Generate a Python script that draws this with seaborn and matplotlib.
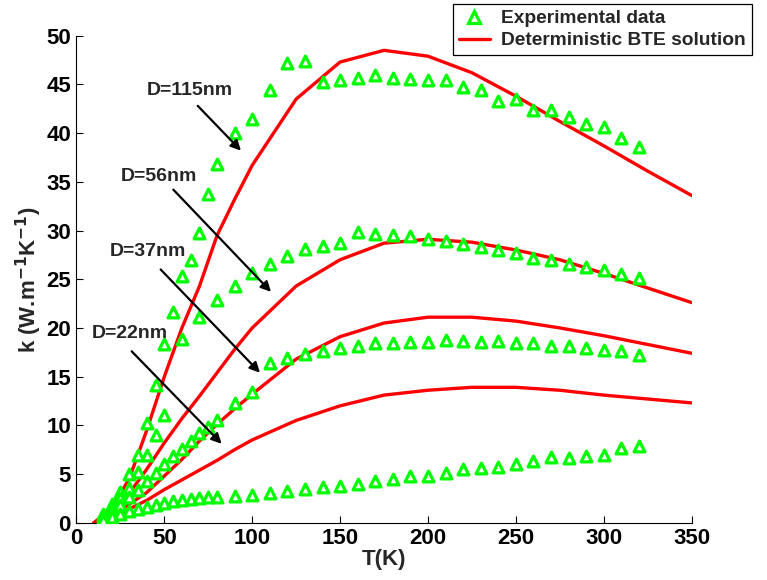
import pandas as pd
import numpy as np
import seaborn as sns
import matplotlib.pyplot as plt
import matplotlib as mpl
from matplotlib.lines import Line2D

sns.set_style('ticks')
mpl.rcParams['font.family'] = ['Liberation Sans', 'DejaVu Sans']
mpl.rcParams['font.weight'] = 'bold'
mpl.rcParams['mathtext.default'] = 'bf'

GREEN = (0, 1, 0)

# experimental points
T_exp = [15, 20, 25, 30, 35, 40, 45, 50, 55, 60, 65, 70, 75, 80,
         90, 100, 110, 120, 130, 140, 150, 160, 170, 180, 190, 200,
         210, 220, 230, 240, 250, 260, 270, 280, 290, 300, 310, 320]
T_exp56 = [15, 20, 25, 30, 35, 40, 45, 50, 60, 70, 80,
           90, 100, 110, 120, 130, 140, 150, 160, 170, 180, 190, 200,
           210, 220, 230, 240, 250, 260, 270, 280, 290, 300, 310, 320]

exp115 = [0.9, 1.9, 3.2, 5.0, 7.0, 10.2, 14.1, 18.3, 21.6, 25.3, 27.0, 29.7, 33.8, 36.8,
          40.0, 41.4, 44.4, 47.2, 47.4, 45.2, 45.5, 45.7, 46.0, 45.7,
          45.6, 45.5, 45.5, 44.7, 44.4, 43.3, 43.5, 42.4, 42.4, 41.7,
          40.9, 40.6, 39.5, 38.6]
exp56 = [0.7, 1.5, 2.5, 3.6, 5.2, 7.0, 9.0, 11.1, 18.9, 21.1, 22.9,
         24.3, 25.6, 26.6, 27.4, 28.1, 28.4, 28.7, 29.8, 29.6, 29.5,
         29.4, 29.1, 28.9, 28.6, 28.3, 28.0, 27.7, 27.2, 27.0, 26.6,
         26.3, 25.9, 25.5, 25.1]
exp37 = [0.5, 1.1, 1.8, 2.6, 3.4, 4.3, 5.1, 6.0, 6.8, 7.6, 8.4, 9.2, 9.8, 10.5,
         12.3, 13.4, 16.4, 16.9, 17.3, 17.6, 17.9, 18.1, 18.4, 18.5,
         18.6, 18.6, 18.8, 18.7, 18.6, 18.7, 18.5, 18.4, 18.1, 18.1,
         17.9, 17.7, 17.6, 17.2]
exp22 = [0.3, 0.6, 0.9, 1.2, 1.4, 1.6, 1.8, 2.0, 2.2, 2.3, 2.4, 2.5, 2.6, 2.6,
         2.7, 2.85, 3.0, 3.3, 3.5, 3.7, 3.8, 4.0, 4.3, 4.5,
         4.8, 4.8, 5.1, 5.5, 5.6, 5.7, 6.0, 6.3, 6.7, 6.6,
         6.8, 7.0, 7.7, 7.9]

# deterministic BTE solution
T_bte = [10, 20, 30, 40, 50, 60, 70, 80, 90, 100, 125, 150, 175, 200, 225, 250, 275, 300, 325, 350]
bte115 = [0, 1.5, 4.5, 9.5, 15.0, 20.0, 24.3, 29.5, 33.2, 36.7, 43.5, 47.3, 48.5, 47.9, 46.2, 43.8, 41.2, 38.7, 36.1, 33.6]
bte56 = [0, 1.0, 3.0, 5.5, 8.2, 10.7, 13.0, 15.4, 17.8, 20.0, 24.3, 27.0, 28.7, 29.1, 28.8, 28.0, 27.0, 25.6, 24.1, 22.6]
bte37 = [0, 0.7, 1.9, 3.1, 4.8, 6.5, 8.4, 10.1, 11.7, 13.2, 16.8, 19.1, 20.5, 21.1, 21.1, 20.7, 20.0, 19.2, 18.3, 17.4]
bte22 = [0, 0.5, 1.4, 2.3, 3.4, 4.4, 5.4, 6.4, 7.5, 8.5, 10.5, 12.0, 13.1, 13.6, 13.9, 13.9, 13.6, 13.1, 12.7, 12.3]

labels = ['D=115nm', 'D=56nm', 'D=37nm', 'D=22nm']
label_xy = [(64.6, 44.4), (46.8, 35.5), (40.4, 27.8), (30.6, 19.4)]
arrow_from = [(69.0, 42.8), (55.1, 34.2), (47.9, 26.0), (31.4, 17.6)]
arrow_to = [(93.6, 38.2), (110.7, 23.7), (104.4, 15.4), (82.6, 8.1)]

exp_df = pd.concat([
    pd.DataFrame({'T': T_exp, 'k': exp115, 'D': '115'}),
    pd.DataFrame({'T': T_exp56, 'k': exp56, 'D': '56'}),
    pd.DataFrame({'T': T_exp, 'k': exp37, 'D': '37'}),
    pd.DataFrame({'T': T_exp, 'k': exp22, 'D': '22'}),
], ignore_index=True)

bte_df = pd.concat([
    pd.DataFrame({'T': T_bte, 'k': bte115, 'D': '115'}),
    pd.DataFrame({'T': T_bte, 'k': bte56, 'D': '56'}),
    pd.DataFrame({'T': T_bte, 'k': bte37, 'D': '37'}),
    pd.DataFrame({'T': T_bte, 'k': bte22, 'D': '22'}),
], ignore_index=True)

fig = plt.figure(figsize=(7.67, 5.80), dpi=100)
ax = fig.add_axes([0.0997, 0.0988, 0.802, 0.8396])

sns.lineplot(data=bte_df, x='T', y='k', units='D', estimator=None,
             color='red', linewidth=2.4, sort=False, ax=ax, zorder=2)
sns.scatterplot(data=exp_df, x='T', y='k', marker='^', s=60,
                facecolor='white', edgecolor=GREEN, linewidth=2.3,
                ax=ax, zorder=3)

for lab, xy, p0, p1 in zip(labels, label_xy, arrow_from, arrow_to):
    ax.text(xy[0], xy[1], lab, ha='center', va='center', fontsize=14, fontweight='bold')
    ax.annotate('', xy=p1, xytext=p0,
                arrowprops=dict(arrowstyle='-|>', color='black', lw=1.6,
                                mutation_scale=15, shrinkA=0, shrinkB=0))

ax.set_xlim(0, 350)
ax.set_ylim(0, 50)
ax.set_xticks([0, 50, 100, 150, 200, 250, 300, 350])
ax.set_yticks([0, 5, 10, 15, 20, 25, 30, 35, 40, 45, 50])
ax.tick_params(direction='in', length=5, width=0.8, labelsize=16, colors='black', pad=4)
for lab in ax.get_xticklabels() + ax.get_yticklabels():
    lab.set_fontweight('bold')
ax.set_xlabel('T(K)', fontsize=16, fontweight='bold', labelpad=0)
ax.set_ylabel('k (W.m$^{-1}$K$^{-1}$)', fontsize=16, fontweight='bold')
ax.yaxis.set_label_coords(-0.052, 0.5)
for s in ['left', 'bottom']:
    ax.spines[s].set_color('black')
    ax.spines[s].set_linewidth(0.8)
sns.despine(ax=ax)

handles = [
    Line2D([], [], marker='^', linestyle='none', markersize=8.5, markerfacecolor='white',
           markeredgecolor=GREEN, markeredgewidth=2.3),
    Line2D([], [], color='red', linewidth=2.4),
]
leg = fig.legend(handles, ['Experimental data', 'Deterministic BTE solution'],
                 loc='upper right', bbox_to_anchor=(0.980, 0.993), fontsize=13.8,
                 frameon=True, fancybox=False, edgecolor='black', framealpha=1,
                 borderpad=0.3, handlelength=1.6, labelspacing=0.25,
                 handletextpad=0.6, borderaxespad=0)
leg.get_frame().set_linewidth(0.9)
for t in leg.get_texts():
    t.set_fontweight('bold')

fig.savefig('out.png', dpi=100)
plt.close()
